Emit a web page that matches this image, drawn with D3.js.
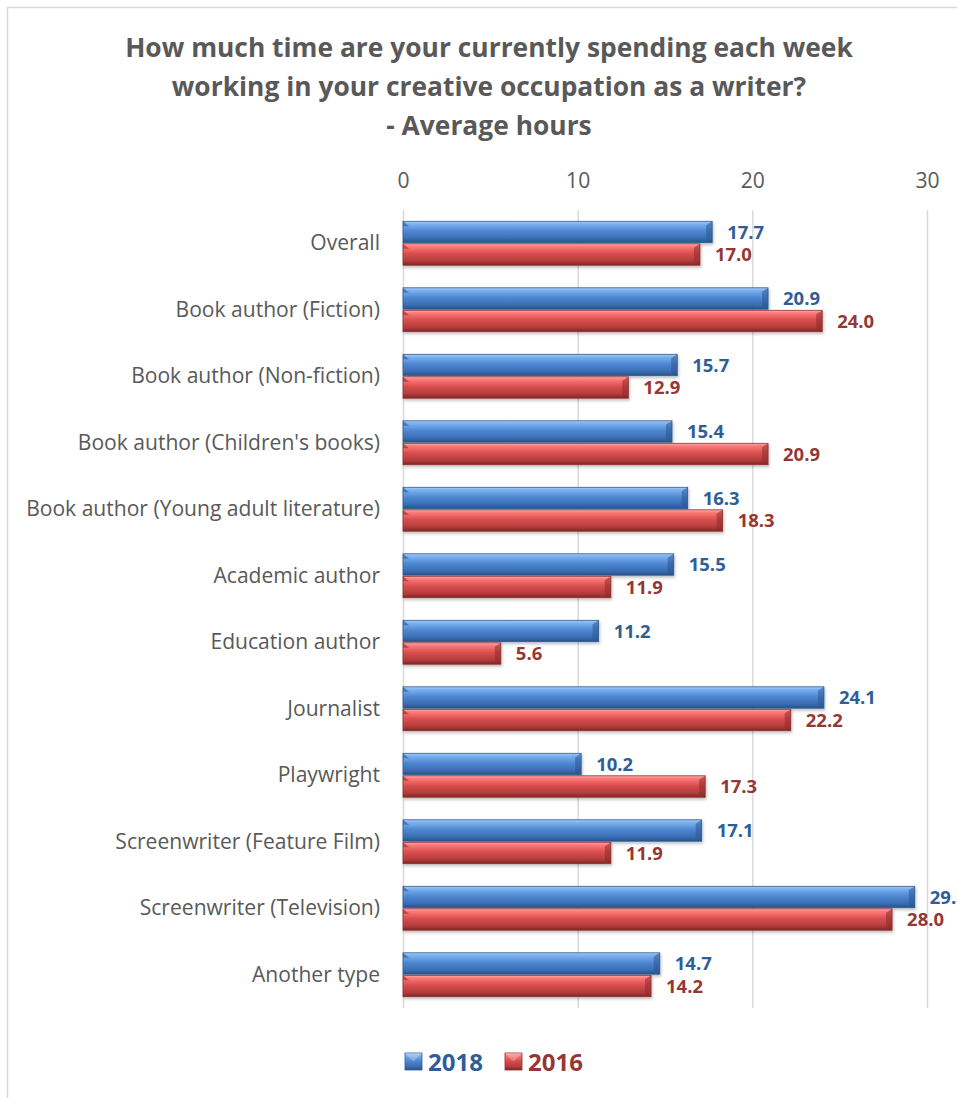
<!DOCTYPE html>
<html>
<head>
<meta charset="utf-8">
<script src="https://cdn.jsdelivr.net/npm/d3@7"></script>
<style>
html,body{margin:0;padding:0;background:#fff;}
svg{display:block;font-family:"Open Sans",Lato,sans-serif;}
</style>
</head>
<body>
<svg id="chart" width="957" height="1098"></svg>
<script>
const categories = ["Overall","Book author (Fiction)","Book author (Non-fiction)","Book author (Children's books)","Book author (Young adult literature)","Academic author","Education author","Journalist","Playwright","Screenwriter (Feature Film)","Screenwriter (Television)","Another type"];
const values2018 = [17.7,20.9,15.7,15.4,16.3,15.5,11.2,24.1,10.2,17.1,29.3,14.7];
const values2016 = [17.0,24.0,12.9,20.9,18.3,11.9,5.6,22.2,17.3,11.9,28.0,14.2];
const seriesNames = ["2018","2016"];
const xTicks = [0,10,20,30];
const titleLines = ["How much time are your currently spending each week","working in your creative occupation as a writer?","- Average hours"];

const svg = d3.select("#chart");
const W = 957, H = 1098;
const grey = "#595959";
const labelColors = ["#2F5E97","#953735"];
const FONT = "'Open Sans',Lato,sans-serif";

// scale a font size so that a sample text reaches a target width
function fitSize(text, weight, target){
  const t = svg.append("text").attr("font-size",20).attr("font-weight",weight).attr("font-family",FONT).text(text);
  const w = t.node().getComputedTextLength();
  t.remove();
  return 20*target/w;
}

// border
svg.append("rect").attr("x",7.5).attr("y",7.5).attr("width",W+20).attr("height",H+20)
  .attr("fill","none").attr("stroke","#D9D9D9").attr("stroke-width",1.5);

// gradients
const defs = svg.append("defs");
const grads = [
  {id:"gBlue", stops:[["0%","#A9CDF7"],["12%","#7CB2F0"],["45%","#4F88D3"],["80%","#3A6DB2"],["100%","#2A5088"]]},
  {id:"gRed", stops:[["0%","#FFB0B0"],["12%","#FF7A7A"],["45%","#D94E4E"],["80%","#B43C3C"],["100%","#7E2626"]]}
];
grads.forEach(g=>{
  const lg = defs.append("linearGradient").attr("id",g.id).attr("x1",0).attr("y1",0).attr("x2",0).attr("y2",1);
  g.stops.forEach(s=>lg.append("stop").attr("offset",s[0]).attr("stop-color",s[1]));
});
const endColors = ["#2C5590","#8A2C2C"];
const strokeColors = ["#2E5A94","#8E3030"];
const shadow = defs.append("filter").attr("id","sh").attr("x","-5%").attr("y","-30%").attr("width","115%").attr("height","180%");
shadow.append("feDropShadow").attr("dx",1).attr("dy",2).attr("stdDeviation",1.5).attr("flood-color","#000").attr("flood-opacity",0.25);

// title
const titleSize = fitSize(titleLines[0],"bold",728);
const title = svg.append("text").attr("text-anchor","middle").attr("fill",grey)
  .attr("font-weight","bold").attr("font-size",titleSize).attr("font-family",FONT);
titleLines.forEach((t,i)=>{
  title.append("tspan").attr("x",489).attr("y",57+i*39).text(t);
});

const margin = {left:403, top:210, bottom:1008};
const x = d3.scaleLinear().domain([0,30]).range([403,927]);
const y = d3.scaleBand().domain(categories).range([margin.top, margin.bottom]).paddingInner(0.34).paddingOuter(0.17);
const ySub = d3.scaleBand().domain(seriesNames).range([0,y.bandwidth()]).paddingInner(0.05);

// gridlines
const grid = svg.append("g");
grid.selectAll("line").data(xTicks).join("line")
  .attr("x1",d=>x(d)+0.5).attr("x2",d=>x(d)+0.5)
  .attr("y1",margin.top).attr("y2",margin.bottom)
  .attr("stroke","#D9D9D9").attr("stroke-width",1.5);

const catSize = fitSize("Book author (Young adult literature)","normal",354);

// x axis labels (top)
const xAxis = d3.axisTop(x).tickValues(xTicks).tickSize(0).tickPadding(0).tickFormat(d3.format("d"));
const gx = svg.append("g").attr("transform","translate(0,188)").call(xAxis);
gx.select(".domain").remove();
gx.selectAll("text").attr("fill",grey).attr("font-size",catSize).attr("font-family",FONT);

// y axis labels
const yAxis = d3.axisLeft(y).tickSize(0).tickPadding(0);
const gy = svg.append("g").attr("transform","translate(380,0)").call(yAxis);
gy.select(".domain").remove();
gy.selectAll("text").attr("fill",grey).attr("font-size",catSize).attr("font-family",FONT);

const valSize = fitSize("17.7","bold",37);

// bars
const series = [values2018, values2016];
const gBars = svg.append("g");
series.forEach((vals,si)=>{
  const key = seriesNames[si];
  const grp = gBars.append("g");
  const items = categories.map((c,i)=>({c, v:vals[i]}));
  const bar = grp.selectAll("g").data(items).join("g");
  bar.append("rect")
    .attr("x",x(0)).attr("y",d=>y(d.c)+ySub(key))
    .attr("width",d=>x(d.v)-x(0)).attr("height",ySub.bandwidth())
    .attr("fill",`url(#${si===0?"gBlue":"gRed"})`)
    .attr("stroke",strokeColors[si]).attr("stroke-width",0.8)
    .attr("filter","url(#sh)");
  // right bevel facet
  bar.append("path")
    .attr("d",d=>{
      const x1 = x(d.v), y0 = y(d.c)+ySub(key), h = ySub.bandwidth();
      return `M${x1-6},${y0+4} L${x1},${y0} L${x1},${y0+h} L${x1-6},${y0+h-3} Z`;
    })
    .attr("fill",endColors[si]).attr("opacity",0.55);
  // left bevel triangle
  bar.append("path")
    .attr("d",d=>{
      const x0 = x(0), y0 = y(d.c)+ySub(key);
      return `M${x0},${y0} L${x0+6},${y0+5} L${x0},${y0+5} Z`;
    })
    .attr("fill",endColors[si]).attr("opacity",0.6);
  // value labels
  bar.append("text")
    .attr("x",d=>x(d.v)+15)
    .attr("y",d=>y(d.c)+ySub(key)+ySub.bandwidth()/2)
    .attr("dy","0.36em")
    .attr("fill",labelColors[si]).attr("font-weight","bold").attr("font-size",valSize).attr("font-family",FONT)
    .text(d=>d3.format(".1f")(d.v));
});

// legend
const legSize = fitSize("2018","bold",55);
const legend = svg.append("g");
const legendX = [405,505];
seriesNames.forEach((n,i)=>{
  const g = legend.append("g").attr("transform",`translate(${legendX[i]},1053)`);
  g.append("rect").attr("width",17).attr("height",17).attr("fill",`url(#${i===0?"gBlue":"gRed"})`)
    .attr("stroke",strokeColors[i]).attr("stroke-width",0.8);
  g.append("path").attr("d","M0,0 L17,0 L8.5,8.5 Z").attr("fill","#fff").attr("opacity",0.25);
  g.append("text").attr("x",23).attr("y",9).attr("dy","0.36em")
    .attr("fill",labelColors[i]).attr("font-weight","bold").attr("font-size",legSize).attr("font-family",FONT).text(n);
});
</script>
</body>
</html>
